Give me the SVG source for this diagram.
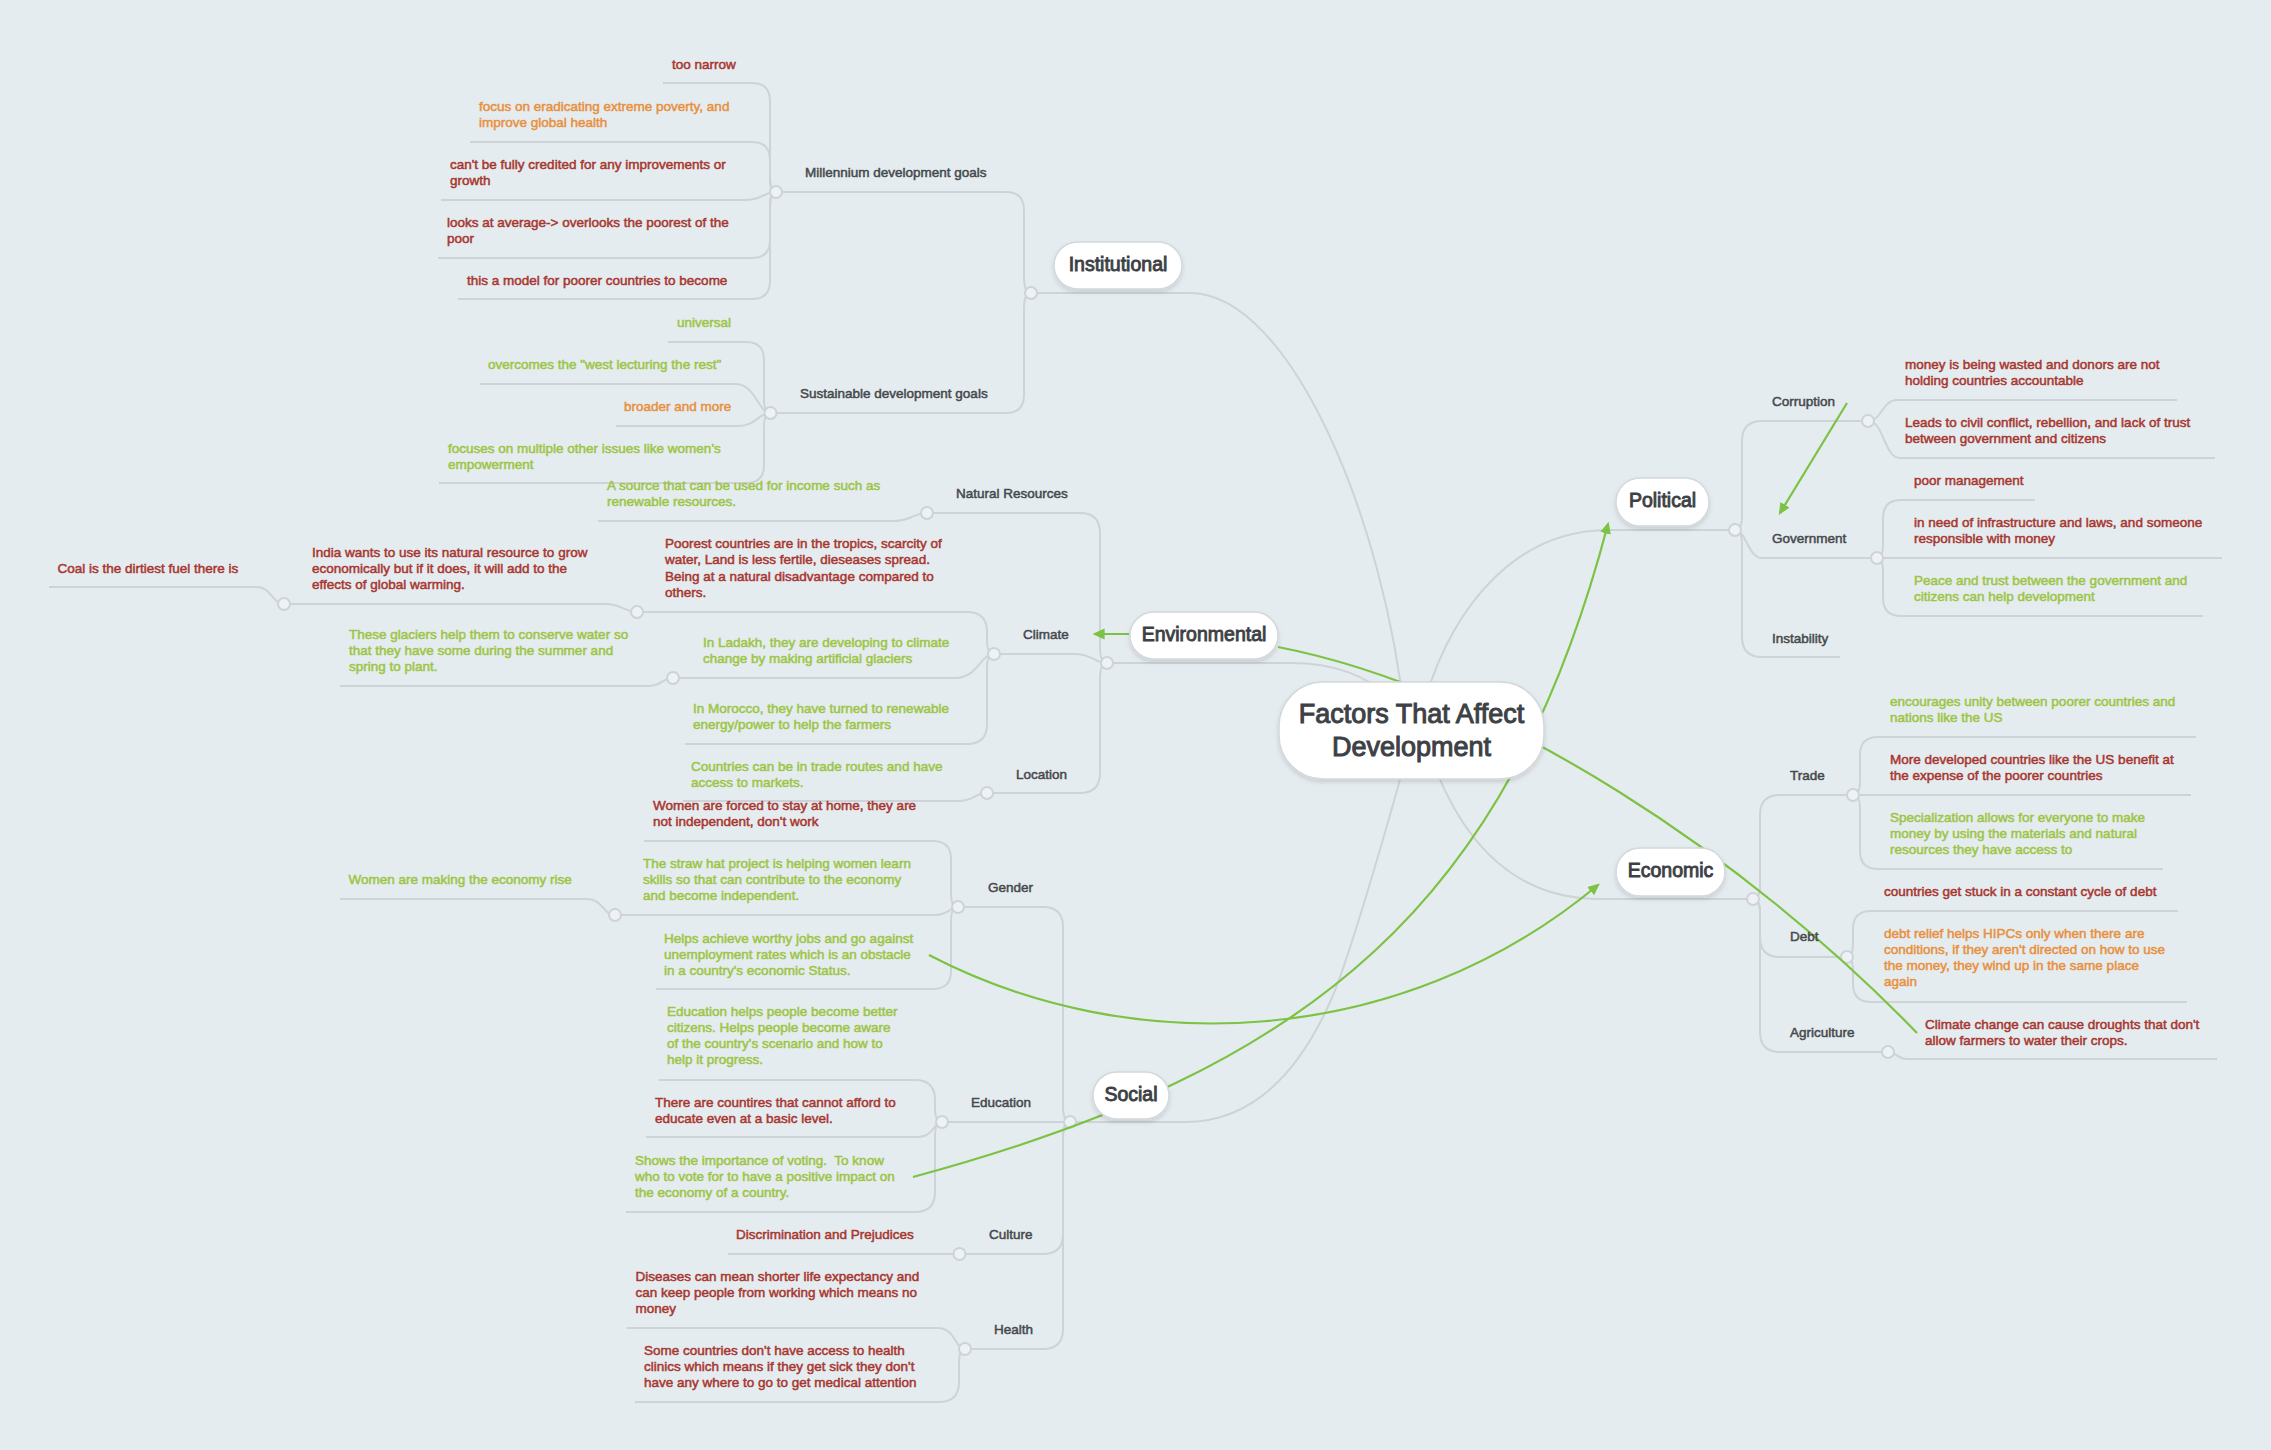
<svg xmlns="http://www.w3.org/2000/svg" width="2271" height="1450" viewBox="0 0 2271 1450">
<defs>
<style>
.bg{fill:#e5ecef}
.ln{fill:none;stroke:#cdd3d7;stroke-width:2}
.jn{fill:#eef2f4;stroke:#cdd3d7;stroke-width:2}
.gr{fill:none;stroke:#7cc243;stroke-width:2.2}
.box{fill:#fff;stroke:#d3d8dc;stroke-width:1.5}
.t{font-family:"Liberation Sans",Arial,sans-serif;font-size:13.5px;stroke-width:.5px}
.k{fill:#45494d;stroke:#45494d}
.r{fill:#a8362f;stroke:#a8362f}
.o{fill:#e8903d;stroke:#e8903d}
.g{fill:#9cc545;stroke:#9cc545}
.m{font-family:"Liberation Sans",Arial,sans-serif;font-size:19.5px;fill:#3d4145;stroke:#3d4145;stroke-width:.9px;text-anchor:middle}
.c{font-family:"Liberation Sans",Arial,sans-serif;font-size:27px;fill:#3d4145;stroke:#3d4145;stroke-width:1px;text-anchor:middle}
</style>
<filter id="sh" x="-20%" y="-30%" width="140%" height="170%"><feDropShadow dx="0" dy="2.5" stdDeviation="2" flood-color="#000" flood-opacity="0.13"/></filter>
<marker id="ah" viewBox="0 0 10 10" refX="8" refY="5" markerWidth="12" markerHeight="12" markerUnits="userSpaceOnUse" orient="auto"><path d="M0,0.5 L10,5 L0,9.5 z" fill="#7cc243"/></marker>
</defs>
<rect class="bg" x="0" y="0" width="2271" height="1450"/>

<g id="connectors">
<g id="branches">
<path class="ln" d="M1031,293 H1190 C1290,293 1385,520 1405,720"/>
<path class="ln" d="M1107,663 H1290 C1335,663 1365,675 1395,700"/>
<path class="ln" d="M1070,1122 H1185 C1255,1122 1300,1070 1331,1000 C1350,957 1395,800 1412,735"/>
<path class="ln" d="M1735,530 H1608 C1520,530 1455,600 1425,700"/>
<path class="ln" d="M1753,899 H1600 C1520,899 1468,850 1436,770"/>

<path class="ln" d="M776,192 H1006 Q1024,192 1024,210 V277 Q1024,293 1031,293"/>
<path class="ln" d="M770,413 H1006 Q1024,413 1024,395 V309 Q1024,293 1031,293"/>

<path class="ln" d="M663,83 H752 Q770,83 770,101 V178 Q770,192 776,192"/>
<path class="ln" d="M470,142 H752 Q770,142 770,160 V178 Q770,192 776,192"/>
<path class="ln" d="M441,200 H745 C762,200 764,192 776,192"/>
<path class="ln" d="M438,258 H752 Q770,258 770,240 V206 Q770,192 776,192"/>
<path class="ln" d="M458,299 H752 Q770,299 770,281 V206 Q770,192 776,192"/>

<path class="ln" d="M668,342 H746 Q764,342 764,360 V399 Q764,413 770.5,413"/>
<path class="ln" d="M480,384 H735 C756,384 758,413 770.5,413"/>
<path class="ln" d="M616,426 H738 C756,426 758,413 770.5,413"/>
<path class="ln" d="M439,483 H746 Q764,483 764,465 V427 Q764,413 770.5,413"/>

<path class="ln" d="M927,513 H1080 Q1100,513 1100,533 V647 Q1100,663 1107,663"/>
<path class="ln" d="M994,654 H1075 C1092,654 1095,663 1107,663"/>
<path class="ln" d="M987,793 H1080 Q1100,793 1100,773 V679 Q1100,663 1107,663"/>

<path class="ln" d="M598,521 H895 C910,521 914,513 927,513"/>
<path class="ln" d="M637,612 H967 Q987,612 987,632 V640 Q987,654 994,654"/>
<path class="ln" d="M673,678 H955 C978,678 980,654 994,654"/>
<path class="ln" d="M685,744 H967 Q987,744 987,724 V668 Q987,654 994,654"/>
<path class="ln" d="M284,604 H605 C622,604 624,612 637,612"/>
<path class="ln" d="M49,587 H256 C272,587 272,604 284,604"/>
<path class="ln" d="M340,686 H648 C662,686 662,678 673,678"/>
<path class="ln" d="M683,801 H958 C974,801 975,793 987,793"/>

<path class="ln" d="M958,907 H1043 Q1063,907 1063,927 V1106 Q1063,1122 1070,1122"/>
<path class="ln" d="M942,1122 H1070"/>
<path class="ln" d="M959.5,1254 H1043 Q1063,1254 1063,1234 V1138 Q1063,1122 1070,1122"/>
<path class="ln" d="M965,1349 H1043 Q1063,1349 1063,1329 V1138 Q1063,1122 1070,1122"/>

<path class="ln" d="M644,841 H933 Q951,841 951,859 V893 Q951,907 958,907"/>
<path class="ln" d="M615,915 H935 C949,915 950,907 958,907"/>
<path class="ln" d="M656,989 H933 Q951,989 951,971 V921 Q951,907 958,907"/>
<path class="ln" d="M340,899 H587 C603,899 603,915 615,915"/>

<path class="ln" d="M659,1080 H915 Q935,1080 935,1100 V1108 Q935,1122 942,1122"/>
<path class="ln" d="M646,1137 H918 C933,1137 934,1122 942,1122"/>
<path class="ln" d="M626,1212 H915 Q935,1212 935,1192 V1136 Q935,1122 942,1122"/>
<path class="ln" d="M728,1254 H959.5"/>
<path class="ln" d="M627,1328 H938 C955,1328 955,1349 965,1349"/>
<path class="ln" d="M635,1402 H939 Q959,1402 959,1382 V1363 Q959,1349 965,1349"/>

<path class="ln" d="M1868,421 H1762 Q1742,421 1742,441 V516 Q1742,530 1735,530"/>
<path class="ln" d="M1877,558 H1762 C1748,558 1746,530 1735,530"/>
<path class="ln" d="M1840,657 H1762 Q1742,657 1742,637 V544 Q1742,530 1735,530"/>
<path class="ln" d="M1868,421 C1882,421 1882,400 1897,400 H2177"/>
<path class="ln" d="M1868,421 C1884,421 1884,458 1900,458 H2215"/>
<path class="ln" d="M1877,558 Q1883,558 1883,544 V518 Q1883,500 1901,500 H2035"/>
<path class="ln" d="M1877,558 H2222"/>
<path class="ln" d="M1877,558 Q1883,558 1883,572 V598 Q1883,616 1901,616 H2203"/>

<path class="ln" d="M1853,795 H1780 Q1760,795 1760,815 V885 Q1760,899 1753,899"/>
<path class="ln" d="M1847,957 H1780 Q1760,957 1760,937 V913 Q1760,899 1753,899"/>
<path class="ln" d="M1888,1052 H1780 Q1760,1052 1760,1032 V913 Q1760,899 1753,899"/>
<path class="ln" d="M1853,795 Q1860,795 1860,781 V755 Q1860,737 1878,737 H2196"/>
<path class="ln" d="M1853,795 H2191"/>
<path class="ln" d="M1853,795 Q1860,795 1860,809 V851 Q1860,869 1878,869 H2163"/>
<path class="ln" d="M1847,957 Q1853,957 1853,943 V929 Q1853,911 1871,911 H2178"/>
<path class="ln" d="M1847,957 Q1853,957 1853,971 V984 Q1853,1002 1871,1002 H2187"/>
<path class="ln" d="M1888,1052 C1897,1052 1897,1059 1907,1059 H2217"/>
</g>
<g id="junctions">
<circle class="jn" cx="1031" cy="293" r="6"/>
<circle class="jn" cx="776" cy="192" r="6"/>
<circle class="jn" cx="770.5" cy="413" r="6"/>
<circle class="jn" cx="1107" cy="663" r="6"/>
<circle class="jn" cx="927" cy="513" r="6"/>
<circle class="jn" cx="994" cy="654" r="6"/>
<circle class="jn" cx="637" cy="612" r="6"/>
<circle class="jn" cx="284" cy="604" r="6"/>
<circle class="jn" cx="673" cy="678" r="6"/>
<circle class="jn" cx="987" cy="793" r="6"/>
<circle class="jn" cx="1070" cy="1122" r="6"/>
<circle class="jn" cx="958" cy="907" r="6"/>
<circle class="jn" cx="615" cy="915" r="6"/>
<circle class="jn" cx="942" cy="1122" r="6"/>
<circle class="jn" cx="959.5" cy="1254" r="6"/>
<circle class="jn" cx="965" cy="1349" r="6"/>
<circle class="jn" cx="1735" cy="530" r="6"/>
<circle class="jn" cx="1868" cy="421" r="6"/>
<circle class="jn" cx="1877" cy="558" r="6"/>
<circle class="jn" cx="1753" cy="899" r="6"/>
<circle class="jn" cx="1853" cy="795" r="6"/>
<circle class="jn" cx="1847" cy="957" r="6"/>
<circle class="jn" cx="1888" cy="1052" r="6"/>
</g>
<g id="relations">
<path class="gr" d="M1129,634 L1095,634" marker-end="url(#ah)"/>
<path class="gr" d="M1278,647 C1500,690 1750,860 1917,1033"/>
<path class="gr" d="M913,1177 C1313,1069 1508,904 1608,524" marker-end="url(#ah)"/>
<path class="gr" d="M929,955 C1130,1060 1400,1050 1598,885" marker-end="url(#ah)"/>
<path class="gr" d="M1847,403 L1780,513" marker-end="url(#ah)"/>
</g>
</g>

<g id="center">
<rect class="box" filter="url(#sh)" x="1279" y="682" width="265" height="97" rx="44"/>
<text class="c" x="1411.5" y="723">Factors That Affect</text>
<text class="c" x="1411.5" y="756">Development</text>
</g>
<g id="institutional">
<rect class="box" filter="url(#sh)" x="1054" y="242" width="128" height="47" rx="23.5"/>
<text class="m" x="1118" y="270.5">Institutional</text>
</g>
<g id="environmental">
<rect class="box" filter="url(#sh)" x="1130" y="612" width="148" height="47" rx="23.5"/>
<text class="m" x="1204" y="640.5">Environmental</text>
</g>
<g id="political">
<rect class="box" filter="url(#sh)" x="1616" y="478" width="93" height="48" rx="24"/>
<text class="m" x="1662.5" y="507">Political</text>
</g>
<g id="economic">
<rect class="box" filter="url(#sh)" x="1616" y="848" width="109" height="48" rx="24"/>
<text class="m" x="1670.5" y="877">Economic</text>
</g>
<g id="social">
<rect class="box" filter="url(#sh)" x="1093" y="1072" width="76" height="47" rx="23.5"/>
<text class="m" x="1131" y="1100.5">Social</text>
</g>

<g id="labels" transform="translate(0,-1)">
<g id="mdg"><text class="t k" x="805" y="178">Millennium development goals</text></g>
<g id="sdg"><text class="t k" x="800" y="399">Sustainable development goals</text></g>
<g id="too-narrow"><text class="t r" x="672" y="70">too narrow</text></g>
<g id="focus"><text class="t o" x="479" y="112">focus on eradicating extreme poverty, and<tspan x="479" dy="16">improve global health</tspan></text></g>
<g id="credited"><text class="t r" x="450" y="170">can't be fully credited for any improvements or<tspan x="450" dy="16">growth</tspan></text></g>
<g id="average"><text class="t r" x="447" y="228">looks at average-&gt; overlooks the poorest of the<tspan x="447" dy="16">poor</tspan></text></g>
<g id="model"><text class="t r" x="467" y="286">this a model for poorer countries to become</text></g>
<g id="universal"><text class="t g" x="677" y="328">universal</text></g>
<g id="overcomes"><text class="t g" x="488" y="370">overcomes the "west lecturing the rest"</text></g>
<g id="broader"><text class="t o" x="624" y="412">broader and more</text></g>
<g id="focuses"><text class="t g" x="448" y="454">focuses on multiple other issues like women's<tspan x="448" dy="16">empowerment</tspan></text></g>

<g id="natural-resources"><text class="t k" x="956" y="499">Natural Resources</text></g>
<g id="source"><text class="t g" x="607" y="491">A source that can be used for income such as<tspan x="607" dy="16">renewable resources.</tspan></text></g>
<g id="climate"><text class="t k" x="1023" y="640">Climate</text></g>
<g id="poorest"><text class="t r" x="665" y="549">Poorest countries are in the tropics, scarcity of<tspan x="665" dy="16.3">water, Land is less fertile, dieseases spread.</tspan><tspan x="665" dy="16.3">Being at a natural disadvantage compared to</tspan><tspan x="665" dy="16.3">others.</tspan></text></g>
<g id="india"><text class="t r" x="312" y="558">India wants to use its natural resource to grow<tspan x="312" dy="16">economically but if it does, it will add to the</tspan><tspan x="312" dy="16">effects of global warming.</tspan></text></g>
<g id="coal"><text class="t r" x="57.5" y="574">Coal is the dirtiest fuel there is</text></g>
<g id="ladakh"><text class="t g" x="703" y="648">In Ladakh, they are developing to climate<tspan x="703" dy="16">change by making artificial glaciers</tspan></text></g>
<g id="glaciers"><text class="t g" x="349" y="640">These glaciers help them to conserve water so<tspan x="349" dy="16">that they have some during the summer and</tspan><tspan x="349" dy="16">spring to plant.</tspan></text></g>
<g id="morocco"><text class="t g" x="693" y="714">In Morocco, they have turned to renewable<tspan x="693" dy="16">energy/power to help the farmers</tspan></text></g>
<g id="location"><text class="t k" x="1016" y="780">Location</text></g>
<g id="trade-routes"><text class="t g" x="691" y="772">Countries can be in trade routes and have<tspan x="691" dy="16">access to markets.</tspan></text></g>

<g id="gender"><text class="t k" x="988" y="893">Gender</text></g>
<g id="women-home"><text class="t r" x="653" y="811">Women are forced to stay at home, they are<tspan x="653" dy="16">not independent, don't work</tspan></text></g>
<g id="straw-hat"><text class="t g" x="643" y="869">The straw hat project is helping women learn<tspan x="643" dy="16">skills so that can contribute to the economy</tspan><tspan x="643" dy="16">and become independent.</tspan></text></g>
<g id="economy-rise"><text class="t g" x="348.5" y="885">Women are making the economy rise</text></g>
<g id="worthy-jobs"><text class="t g" x="664" y="944">Helps achieve worthy jobs and go against<tspan x="664" dy="16">unemployment rates which is an obstacle</tspan><tspan x="664" dy="16">in a country's economic Status.</tspan></text></g>
<g id="education"><text class="t k" x="971" y="1108">Education</text></g>
<g id="better-citizens"><text class="t g" x="667" y="1017">Education helps people become better<tspan x="667" dy="16">citizens. Helps people become aware</tspan><tspan x="667" dy="16">of the country's scenario and how to</tspan><tspan x="667" dy="16">help it progress.</tspan></text></g>
<g id="cannot-afford"><text class="t r" x="655" y="1108">There are countires that cannot afford to<tspan x="655" dy="16">educate even at a basic level.</tspan></text></g>
<g id="voting"><text class="t g" x="635" y="1166">Shows the importance of voting.&#160; To know<tspan x="635" dy="16">who to vote for to have a positive impact on</tspan><tspan x="635" dy="16">the economy of a country.</tspan></text></g>
<g id="culture"><text class="t k" x="989" y="1240">Culture</text></g>
<g id="discrimination"><text class="t r" x="736" y="1240">Discrimination and Prejudices</text></g>
<g id="health"><text class="t k" x="994" y="1335">Health</text></g>
<g id="diseases"><text class="t r" x="635.5" y="1282">Diseases can mean shorter life expectancy and<tspan x="635.5" dy="16">can keep people from working which means no</tspan><tspan x="635.5" dy="16">money</tspan></text></g>
<g id="clinics"><text class="t r" x="644" y="1356">Some countries don't have access to health<tspan x="644" dy="16">clinics which means if they get sick they don't</tspan><tspan x="644" dy="16">have any where to go to get medical attention</tspan></text></g>

<g id="corruption"><text class="t k" x="1772" y="407">Corruption</text></g>
<g id="wasted"><text class="t r" x="1905" y="370">money is being wasted and donors are not<tspan x="1905" dy="16">holding countries accountable</tspan></text></g>
<g id="conflict"><text class="t r" x="1905" y="428">Leads to civil conflict, rebellion, and lack of trust<tspan x="1905" dy="16">between government and citizens</tspan></text></g>
<g id="government"><text class="t k" x="1772" y="544">Government</text></g>
<g id="poor-management"><text class="t r" x="1914" y="486">poor management</text></g>
<g id="infrastructure"><text class="t r" x="1914" y="528">in need of infrastructure and laws, and someone<tspan x="1914" dy="16">responsible with money</tspan></text></g>
<g id="peace"><text class="t g" x="1914" y="586">Peace and trust between the government and<tspan x="1914" dy="16">citizens can help development</tspan></text></g>
<g id="instability"><text class="t k" x="1772" y="644">Instability</text></g>

<g id="trade"><text class="t k" x="1790" y="781">Trade</text></g>
<g id="unity"><text class="t g" x="1890" y="707">encourages unity between poorer countries and<tspan x="1890" dy="16">nations like the US</tspan></text></g>
<g id="benefit"><text class="t r" x="1890" y="765">More developed countries like the US benefit at<tspan x="1890" dy="16">the expense of the poorer countries</tspan></text></g>
<g id="specialization"><text class="t g" x="1890" y="823">Specialization allows for everyone to make<tspan x="1890" dy="16">money by using the materials and natural</tspan><tspan x="1890" dy="16">resources they have access to</tspan></text></g>
<g id="debt"><text class="t k" x="1790" y="942">Debt</text></g>
<g id="cycle"><text class="t r" x="1884" y="897">countries get stuck in a constant cycle of debt</text></g>
<g id="relief"><text class="t o" x="1884" y="939">debt relief helps HIPCs only when there are<tspan x="1884" dy="16">conditions, if they aren't directed on how to use</tspan><tspan x="1884" dy="16">the money, they wind up in the same place</tspan><tspan x="1884" dy="16">again</tspan></text></g>
<g id="agriculture"><text class="t k" x="1790" y="1038">Agriculture</text></g>
<g id="droughts"><text class="t r" x="1925" y="1030">Climate change can cause droughts that don't<tspan x="1925" dy="16">allow farmers to water their crops.</tspan></text></g>
</g>
</svg>
